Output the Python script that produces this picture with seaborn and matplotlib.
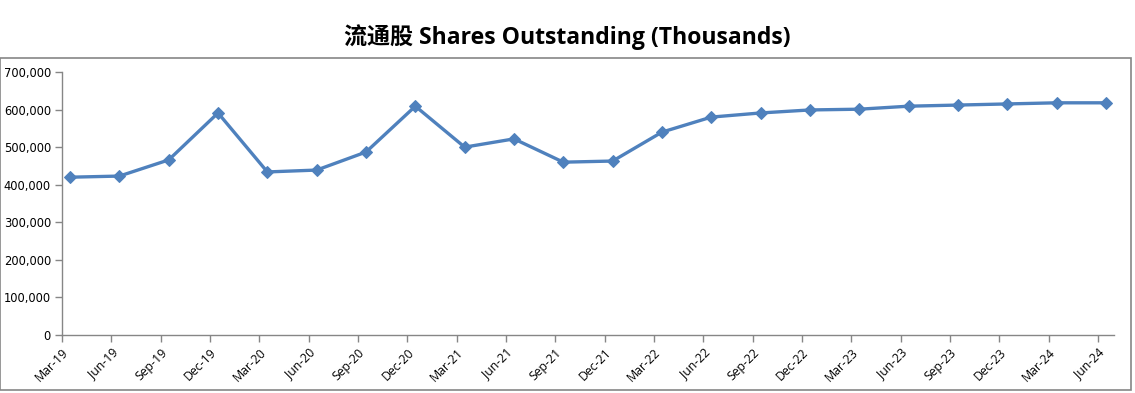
import numpy as np
import pandas as pd
import matplotlib
matplotlib.use('Agg')
import matplotlib.pyplot as plt
import seaborn as sns
from matplotlib.patches import Rectangle
from matplotlib.ticker import FuncFormatter

# ── data ───────────────────────────────────────────
quarters = ['Mar-19', 'Jun-19', 'Sep-19', 'Dec-19', 'Mar-20', 'Jun-20', 'Sep-20',
            'Dec-20', 'Mar-21', 'Jun-21', 'Sep-21', 'Dec-21', 'Mar-22', 'Jun-22',
            'Sep-22', 'Dec-22', 'Mar-23', 'Jun-23', 'Sep-23', 'Dec-23', 'Mar-24',
            'Jun-24']
shares = [420000, 423000, 466000, 591000, 434000, 439000, 487000,
          609000, 500000, 522000, 460000, 463000, 540000, 580000,
          591000, 599000, 601000, 609000, 612000, 615000, 618000,
          618000]
title = '流通股 Shares Outstanding (Thousands)'

df = pd.DataFrame({'pos': np.arange(len(quarters)), 'shares': shares})

# ── figure ─────────────────────────────────────────
sns.set_style('white')
plt.rcParams['font.family'] = ['DejaVu Sans', 'Noto Sans CJK SC']

fig = plt.figure(figsize=(11.35, 3.93), dpi=100)
ax = fig.add_axes([62 / 1135, 1 - 335 / 393, (1114 - 62) / 1135, (335 - 72) / 393])

sns.lineplot(data=df, x='pos', y='shares', ax=ax, color='#4F81BD',
             linewidth=2.4, marker='D', markersize=6.5, markeredgecolor='#4F81BD')

off = 0.163
ax.set_xlim(-off, len(quarters) - 1 + off)
ax.set_xticks(df['pos'] - off)
ax.set_xticklabels(quarters, rotation=45, ha='right', rotation_mode='anchor',
                   fontsize=8.8, color='black', family=['Open Sans', 'DejaVu Sans'])
ax.set_ylim(0, 700000)
ax.set_yticks(np.arange(0, 700001, 100000))
ax.yaxis.set_major_formatter(FuncFormatter(lambda v, p: f'{int(v):,}'))
ax.tick_params(axis='y', labelsize=8.3, labelcolor='black', length=5, width=1,
               color='#868686', direction='out', left=True, pad=3)
ax.tick_params(axis='x', length=5, width=1, color='#868686',
               direction='out', bottom=True, pad=3)
ax.set_xlabel('')
ax.set_ylabel('')
for s in ['top', 'right']:
    ax.spines[s].set_visible(False)
for s in ['left', 'bottom']:
    ax.spines[s].set_color('#868686')
    ax.spines[s].set_linewidth(1)

# outer frame
fig.patches.append(Rectangle((0, 1 - 390 / 393), 1131 / 1135, 332 / 393,
                             transform=fig.transFigure, fill=False,
                             edgecolor='#868686', linewidth=1.2))

fig.text(0.5, 1 - 37 / 393, title, ha='center', va='center', fontsize=16.6,
         fontweight='bold', color='black', family=['Open Sans', 'Noto Sans CJK SC'])

plt.savefig('out.png', dpi=100)
plt.close()
